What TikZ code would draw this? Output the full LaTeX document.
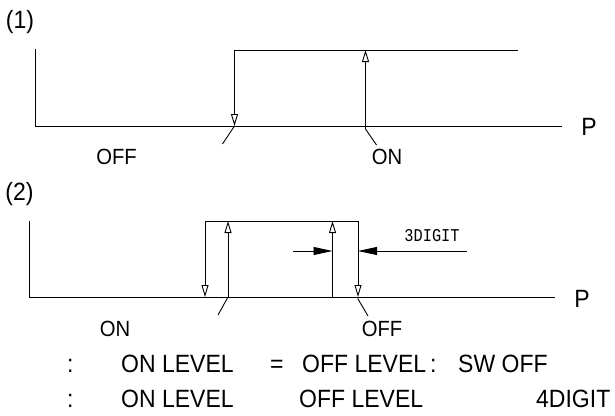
\documentclass[tikz,border=0pt]{standalone}
\usepackage{fontspec}
\setmainfont{Liberation Sans}[FakeStretch=0.92]
\newfontfamily\digitfont{Liberation Mono}[FakeStretch=0.85]
\usetikzlibrary{positioning,arrows.meta}

\begin{document}
\begin{tikzpicture}[
    x=1pt, y=-1pt,
    line/.style={line width=0.9pt},
    openarrow/.style={line width=0.9pt, -{Triangle[open, length=12pt, width=7pt]}},
    dimarrow/.style={line width=0.9pt, -{Triangle[length=19pt, width=8pt]}},
    lbl/.style={inner sep=0pt, font=\fontsize{22}{22}\selectfont},
    tag/.style={inner sep=0pt, font=\fontsize{25}{25}\selectfont},
    note/.style={inner sep=0pt, anchor=base west, font=\fontsize{25}{25}\selectfont},
    digit/.style={inner sep=0pt, font=\digitfont\fontsize{18}{18}\selectfont},
]
\useasboundingbox (0,0) rectangle (615,415);

% (1) one switching level
\node[tag] (case1) at (20,22) {(1)};
\coordinate (top1) at (35,49);
\coordinate (org1) at (35,126);
\coordinate (end1) at (562,126);
\draw[line] (top1) -- (org1) -- (end1);
\node[tag] (p1) at (589,127) {P};

\coordinate (high1) at (518,50);
\coordinate (offtop1) at (234.5,50);
\coordinate (offbot1) at (234.5,126);
\coordinate (onbot1) at (365.5,126);
\coordinate (ontop1) at (365.5,50);
\draw[line] (high1) -- (offtop1);
\draw[openarrow] (offtop1) -- (offbot1);
\draw[openarrow] (onbot1) -- (ontop1);
\draw[line] (offbot1) -- ++(-12,18);
\draw[line] (onbot1) -- ++(0,3) -- ++(11,16);
\node[lbl] (off1) at (116.5,157) {OFF};
\node[lbl] (on1) at (387,157) {ON};

% (2) two levels with hysteresis
\node[tag] (case2) at (19.5,194) {(2)};
\coordinate (top2) at (29,221);
\coordinate (org2) at (29,297);
\coordinate (end2) at (555,297);
\draw[line] (top2) -- (org2) -- (end2);
\node[tag] (p2) at (582,299) {P};

\coordinate (lt) at (205,221);
\coordinate (lb) at (205,297);
\coordinate (rt) at (358,221);
\coordinate (rb) at (358,297);
\coordinate (onb2) at (228,297);
\coordinate (ont2) at (228,221);
\coordinate (onb3) at (332.5,297);
\coordinate (ont3) at (332.5,221);
\draw[line] (lt) -- (rt);
\draw[openarrow] (lt) -- (lb);
\draw[openarrow] (rt) -- (rb);
\draw[openarrow] (onb2) -- (ont2);
\draw[openarrow] (onb3) -- (ont3);

\coordinate (dimL) at (293,251);
\coordinate (dimR) at (467,251);
\draw[dimarrow] (dimL) -- (332.5,251);
\draw[dimarrow] (dimR) -- (358,251);
\node[digit] (d3) at (432,236) {3DIGIT};

\draw[line] (onb2) -- ++(-10,18);
\draw[line] (rb) -- ++(0,2) -- ++(10,17);
\node[lbl] (on2) at (115,329) {ON};
\node[lbl] (off2) at (382,329) {OFF};

% notes
\node[note] (col1) at (67,372.5) {:};
\node[note] (lvA) at (121,372.5) {ON LEVEL};
\node[note] (eq) at (270,372.5) {=};
\node[note] (lvB) at (302,372.5) {OFF LEVEL};
\node[note] (col2) at (430,372.5) {:};
\node[note] (sw) at (458,372.5) {SW OFF};
\node[note] (col3) at (67,407) {:};
\node[note] (lvC) at (121,407) {ON LEVEL};
\node[note] (lvD) at (299,407) {OFF LEVEL};
\node[note] (d4) at (536,407) {4DIGIT};
\end{tikzpicture}
\end{document}
